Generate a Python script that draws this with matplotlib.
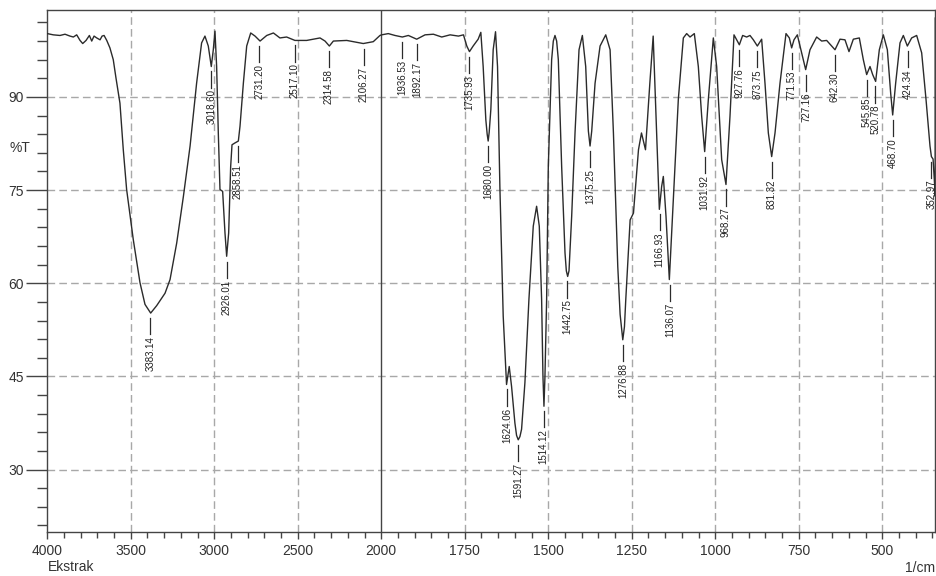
import numpy as np
import matplotlib
matplotlib.use("Agg")
import matplotlib.pyplot as plt
from matplotlib.ticker import FixedLocator, NullFormatter

plt.rcParams['font.family'] = ['Liberation Sans', 'DejaVu Sans']

# ---- spektrum ----
wavenumber = [
    4000, 3964, 3924, 3894, 3864, 3844, 3824, 3804, 3788, 3768, 3748, 3734, 3720, 3704,
    3684, 3672, 3660, 3644, 3625, 3605, 3589, 3565, 3545, 3525, 3509, 3485, 3445, 3415,
    3381, 3345, 3295, 3265, 3225, 3185, 3145, 3106, 3076, 3056, 3036, 3018, 3006, 2996,
    2986, 2976, 2966, 2950, 2936, 2926, 2914, 2902, 2894, 2876, 2856, 2846, 2826, 2806,
    2782, 2756, 2726, 2686, 2646, 2607, 2567, 2517, 2447, 2367, 2337, 2311, 2287, 2207,
    2108, 2048, 2008,
    1999, 1979, 1959, 1937, 1919, 1894, 1869, 1844, 1819, 1794, 1769, 1754, 1744, 1736,
    1725, 1710, 1702, 1695, 1687, 1683, 1680, 1677, 1672, 1665, 1658, 1652, 1645, 1635,
    1625, 1617, 1610, 1600, 1595, 1590, 1585, 1580, 1570, 1558, 1545, 1535, 1527, 1520,
    1516, 1513, 1510, 1505, 1500, 1490, 1485, 1480, 1475, 1470, 1460, 1450, 1446, 1442,
    1438, 1430, 1420, 1408, 1398, 1388, 1380, 1375, 1370, 1360, 1345, 1328, 1315, 1305,
    1292, 1285, 1277, 1272, 1268, 1255, 1245, 1230, 1221, 1209, 1196, 1186,
    1175.5, 1167.5, 1160.6, 1155.6, 1147.6, 1137.6, 1125.6, 1110.7, 1095.7, 1085.7,
    1075.7, 1062.8, 1050.8, 1040.8, 1031.8, 1020.8, 1005.9, 995.9, 980.9, 968.0, 956.0,
    944.0, 936.0, 928.0, 918.1, 906.1, 896.1, 886.1, 874.1, 861.2, 851.2, 841.2, 831.2,
    821.2, 806.3, 788.3, 778.3, 771.4, 764.4, 754.4, 741.4, 729.4, 716.5, 696.5, 681.5,
    666.6, 651.6, 641.6, 626.6, 611.7, 599.7, 586.7, 568.8, 556.8, 546.8, 536.8, 528.8,
    519.9, 508.9, 496.9, 484.9, 474.9, 468.9, 460.0, 447.0, 437.0, 425.0, 412.1, 397.1,
    382.1, 369.1, 357.2, 353.0, 348.0, 343.5, 341.6, 341.4,
]
transmittance = [
    100.2, 100.0, 99.9, 100.1, 99.8, 99.65, 100.0, 99.1, 98.6, 99.1, 99.9, 99.0, 99.8, 99.5,
    99.2, 99.8, 99.9, 99.1, 97.9, 96.0, 93.1, 89.0, 81.5, 75.1, 71.9, 67.0, 60.1, 56.6,
    55.2, 56.4, 58.4, 60.6, 66.5, 74.0, 82.1, 92.2, 98.7, 99.8, 98.2, 94.9, 97.6, 100.6,
    94.9, 84.2, 75.1, 74.8, 68.1, 64.35, 68.1, 78.8, 82.3, 82.6, 82.9, 85.3, 92.2, 98.2,
    100.3, 99.8, 99.0, 99.9, 100.3, 99.5, 99.65, 99.1, 99.1, 99.5, 99.0, 98.2, 99.0, 99.1,
    98.6, 98.9, 99.9,
    100.0, 100.2, 99.9, 99.65, 99.9, 99.3, 100.0, 100.1, 99.65, 100.0, 99.8, 100.0, 98.2, 97.3,
    98.2, 99.3, 100.4, 94.9, 86.3, 84.0, 82.9, 84.3, 88.0, 97.6, 100.5, 94.9, 75.6, 54.7,
    43.7, 46.6, 43.4, 37.5, 35.5, 34.8, 35.3, 36.5, 44.0, 57.4, 69.2, 72.4, 69.2, 57.4,
    45.0, 40.2, 45.0, 57.4, 78.8, 96.0, 99.0, 99.9, 99.0, 96.0, 78.8, 64.9, 62.0, 61.1,
    62.0, 70.8, 84.2, 97.6, 99.9, 94.9, 84.5, 82.1, 84.5, 92.2, 98.2, 100.0, 97.6, 84.2,
    62.7, 55.0, 50.9, 53.0, 57.4, 70.2, 71.3, 81.5, 84.2, 81.5, 92.2, 99.8,
    84.2, 71.9, 75.6, 77.2, 70.8, 60.6, 73.5, 89.6, 99.5, 100.2,
    99.65, 100.2, 94.9, 86.9, 81.2, 89.6, 99.5, 94.9, 79.9, 75.9, 86.9,
    100.0, 99.2, 98.4, 99.9, 99.65, 99.9, 99.2, 98.2, 99.3, 92.2, 84.2, 80.4,
    84.2, 92.2, 100.2, 99.5, 97.9, 99.2, 100.0, 97.1, 94.4, 97.6, 99.65, 99.0,
    99.1, 98.2, 97.6, 99.3, 99.2, 97.3, 99.3, 99.5, 96.0, 93.6, 94.9, 93.6,
    92.5, 97.6, 100.0, 97.6, 90.6, 87.1, 92.2, 98.7, 99.9, 98.2, 99.5, 99.9,
    97.1, 89.6, 82.1, 80.4, 80.0, 76.0, 74.0, 102.7,
]

# ---- label puncak ----
peak_wn = [3383.14, 3018.60, 2926.01, 2858.51, 2731.20, 2517.10, 2314.58, 2106.27,
           1936.53, 1892.17, 1735.93, 1680.00, 1624.06, 1591.27, 1514.12, 1442.75,
           1375.25, 1276.88, 1166.93, 1136.07, 1031.92, 968.27, 927.76, 873.75,
           831.32, 771.53, 727.16, 642.30, 545.85, 520.78, 468.70, 424.34, 352.97]
peak_t = [55.2, 94.9, 64.3, 82.9, 99.0, 99.1, 98.2, 98.6,
          99.65, 99.3, 97.3, 82.9, 43.7, 34.8, 40.2, 61.1,
          82.1, 50.9, 71.9, 60.6, 81.2, 75.9, 98.4, 98.2,
          80.4, 97.9, 94.4, 97.6, 93.6, 92.5, 87.1, 98.2, 80.4]

x_major = [4000, 3500, 3000, 2500, 2000, 1750, 1500, 1250, 1000, 750, 500]
x_minor = list(range(3900, 2000, -100)) + list(range(1950, 340, -50))
y_major = [30, 45, 60, 75, 90]
y_minor = list(range(21, 104, 3))


def fwd(x):
    x = np.asarray(x, dtype=float)
    return np.where(x <= 2000, x, 2000 + (x - 2000) * 0.5)


def inv(u):
    u = np.asarray(u, dtype=float)
    return np.where(u <= 2000, u, 2000 + (u - 2000) * 2.0)


fig = plt.figure(figsize=(9.37, 5.76), dpi=100)
ax = fig.add_axes([47.3 / 937, 1 - 531.7 / 576, (935.3 - 47.3) / 937, (531.7 - 10) / 576])
ax.set_xscale('function', functions=(fwd, inv))
ax.set_xlim(4000, 341.3)
ax.set_ylim(20, 104)

grid_kw = dict(color='#a8a8a8', linewidth=1.0, dashes=(5.5, 3), zorder=1)
for xv in x_major[1:]:
    if xv != 2000:
        ax.axvline(xv, **grid_kw)
for yv in y_major:
    ax.axhline(yv, **grid_kw)
ax.axvline(2000, color='#444444', linewidth=1.0, zorder=2)

ax.plot(wavenumber, transmittance, color='#2b2b2b', linewidth=1.0, zorder=3)

# garis + angka puncak
for wn, t in zip(peak_wn, peak_t):
    ax.plot([wn, wn], [t - 0.8, t - 3.4], color='#2b2b2b', linewidth=0.9, zorder=4)
    ax.text(wn, t - 3.7, f'{wn:.2f}', rotation=90, ha='center', va='top',
            fontsize=7, color='#222222', zorder=4)

ax.xaxis.set_major_locator(FixedLocator(x_major))
ax.xaxis.set_minor_locator(FixedLocator(x_minor))
ax.xaxis.set_minor_formatter(NullFormatter())
ax.set_xticklabels([str(v) for v in x_major])
ax.yaxis.set_major_locator(FixedLocator(y_major))
ax.yaxis.set_minor_locator(FixedLocator(y_minor))
ax.yaxis.set_minor_formatter(NullFormatter())

ax.tick_params(axis='x', which='major', length=5, width=1, color='#444444', pad=4,
               labelsize=10, labelcolor='#333333')
ax.tick_params(axis='x', which='minor', length=4, width=1, color='#444444')
ax.tick_params(axis='y', which='major', length=15, width=1, color='#444444', pad=2,
               labelsize=10, labelcolor='#333333')
ax.tick_params(axis='y', which='minor', length=7, width=1, color='#444444')
for sp in ax.spines.values():
    sp.set_color('#444444')
    sp.set_linewidth(1.0)

fig.text(9.5 / 937, 1 - 147.5 / 576, '%T', ha='left', va='center', fontsize=10, color='#333333')
fig.text(48 / 937, 1 - 567 / 576, 'Ekstrak', ha='left', va='center', fontsize=10, color='#333333')
fig.text(935.5 / 937, 1 - 568 / 576, '1/cm', ha='right', va='center', fontsize=10, color='#333333')

fig.savefig('out.png', dpi=100)
